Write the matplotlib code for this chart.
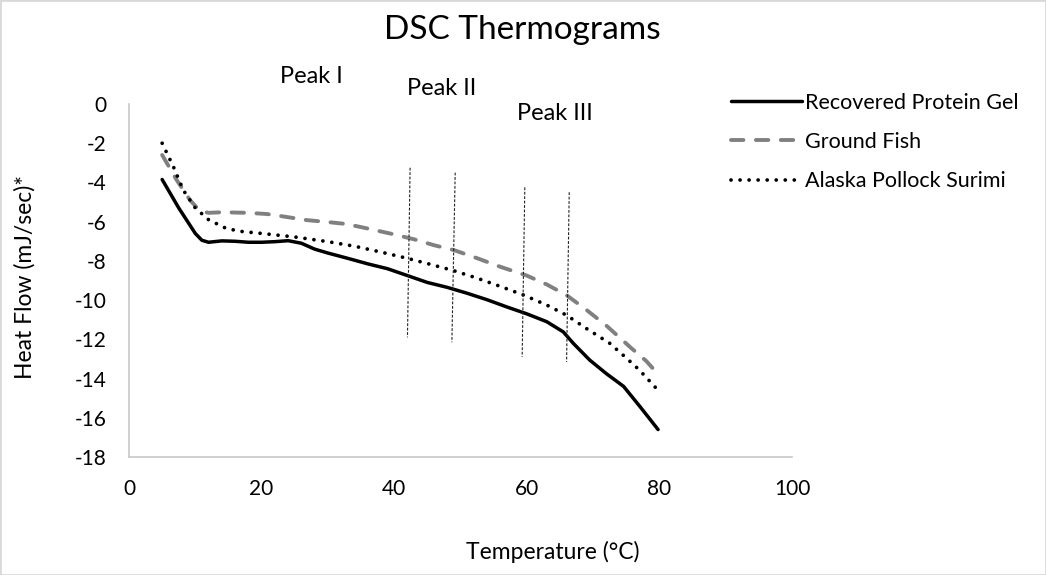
import numpy as np
import matplotlib
matplotlib.use("Agg")
import matplotlib.pyplot as plt
from matplotlib.patches import Rectangle

plt.rcParams['font.family'] = ['Lato', 'DejaVu Sans']
plt.rcParams['axes.unicode_minus'] = False

# --------------------------------------------------
# Data
# --------------------------------------------------
gel_t = [5, 7.5, 10, 11, 12, 14, 16, 18, 20, 22, 24, 26, 28, 30, 33, 36, 39, 42, 45,
         48, 51, 54, 57, 60, 63, 65.5, 67, 69.5, 72, 74.6, 77, 79.8]
gel_hf = [-3.85, -5.3, -6.6, -6.95, -7.05, -6.98, -7.0, -7.05, -7.05, -7.02, -6.97,
          -7.1, -7.4, -7.6, -7.87, -8.15, -8.4, -8.75, -9.1, -9.35, -9.65, -9.98,
          -10.35, -10.7, -11.1, -11.62, -12.2, -13.06, -13.75, -14.4, -15.4, -16.6]

fish_t = [5, 7.2, 9.2, 10.7, 12, 14, 18, 20.8, 23, 26.8, 30, 32.8, 36, 40, 43, 46,
          49, 52, 56, 60, 63, 66, 69, 72, 75.6, 78, 80]
fish_hf = [-2.6, -3.88, -4.9, -5.45, -5.55, -5.52, -5.55, -5.61, -5.72, -5.92, -6.02,
           -6.12, -6.35, -6.65, -6.9, -7.2, -7.45, -7.8, -8.3, -8.75, -9.2, -9.75,
           -10.5, -11.3, -12.4, -13.1, -13.85]

surimi_t = [5, 6.7, 8.2, 10, 12, 14.7, 17, 20, 25, 30, 34, 38, 42, 45.5, 49, 52.5,
            56, 59.5, 63, 66, 69, 72.5, 75, 77, 79.8]
surimi_hf = [-2.0, -3.2, -4.4, -5.3, -5.9, -6.35, -6.5, -6.6, -6.78, -7.02, -7.25,
             -7.55, -7.87, -8.18, -8.5, -8.88, -9.3, -9.74, -10.25, -10.77, -11.45,
             -12.2, -12.95, -13.57, -14.6]

# hand drawn peak markers (slightly slanted)
mark_x_top = [42.4, 49.2, 59.7, 66.4]
mark_x_bot = [42.0, 48.7, 59.3, 66.0]
mark_y_top = [-3.25, -3.5, -4.25, -4.5]
mark_y_bot = [-11.9, -12.15, -12.9, -13.15]

peak_names = ["Peak I", "Peak II", "Peak III"]
peak_x = [27.45, 47.2, 64.3]
peak_y = [1.38, 0.77, -0.46]

x_ticks = [0, 20, 40, 60, 80, 100]
y_ticks = list(range(-18, 1, 2))

# --------------------------------------------------
# Figure
# --------------------------------------------------
W, H = 1046, 575
fig = plt.figure(figsize=(W / 100, H / 100), dpi=100)
ax = fig.add_axes([129 / W, 1 - 457 / H, (792 - 129) / W, (457 - 104) / H])

ax.plot(gel_t, gel_hf, color='black', lw=2.5, solid_capstyle='round',
        label="Recovered Protein Gel")
ax.plot(fish_t, fish_hf, color='#808080', lw=2.8, linestyle=(0, (3.2, 3.2)),
        dash_capstyle='round', label="Ground Fish")
ax.plot(surimi_t, surimi_hf, color='black', lw=2.7, linestyle=(0, (0.01, 2.4)),
        dash_capstyle='round', label="Alaska Pollock Surimi")

for xt, xb, yt, yb in zip(mark_x_top, mark_x_bot, mark_y_top, mark_y_bot):
    ax.plot([xt, xb], [yt, yb], color='#222222', lw=0.8, linestyle=(0, (2.5, 1.5)))

for name, px, py in zip(peak_names, peak_x, peak_y):
    ax.text(px, py, name, ha='center', va='center', fontsize=17, clip_on=False)

ax.set_xlim(0, 100)
ax.set_ylim(-18, 0)
ax.set_xticks(x_ticks)
ax.set_yticks(y_ticks)
ax.tick_params(length=0, labelsize=15, pad=16)

for s in ['top', 'right']:
    ax.spines[s].set_visible(False)
for s in ['left', 'bottom']:
    ax.spines[s].set_color('#C8C8C8')
    ax.spines[s].set_linewidth(1.2)

fig.text(522 / W, 1 - 30 / H, "DSC Thermograms", ha='center', va='center', fontsize=24)
fig.text(553 / W, 1 - 552 / H, "Temperature (°C)", ha='center', va='center', fontsize=16.5)
fig.text(25 / W, 1 - 277 / H, "Heat Flow (mJ/sec)*", ha='center', va='center',
         fontsize=16.5, rotation=90)

leg = fig.legend(loc='upper left', bbox_to_anchor=(722 / W, 1 - 84 / H),
                 frameon=False, fontsize=15.5, handlelength=3.3, handletextpad=0.15,
                 labelspacing=0.9, borderaxespad=0)

fig.add_artist(Rectangle((0, 0), 1, 1, transform=fig.transFigure, fill=False,
                         ec='#D9D9D9', lw=2))

fig.savefig("out.png", dpi=100)
